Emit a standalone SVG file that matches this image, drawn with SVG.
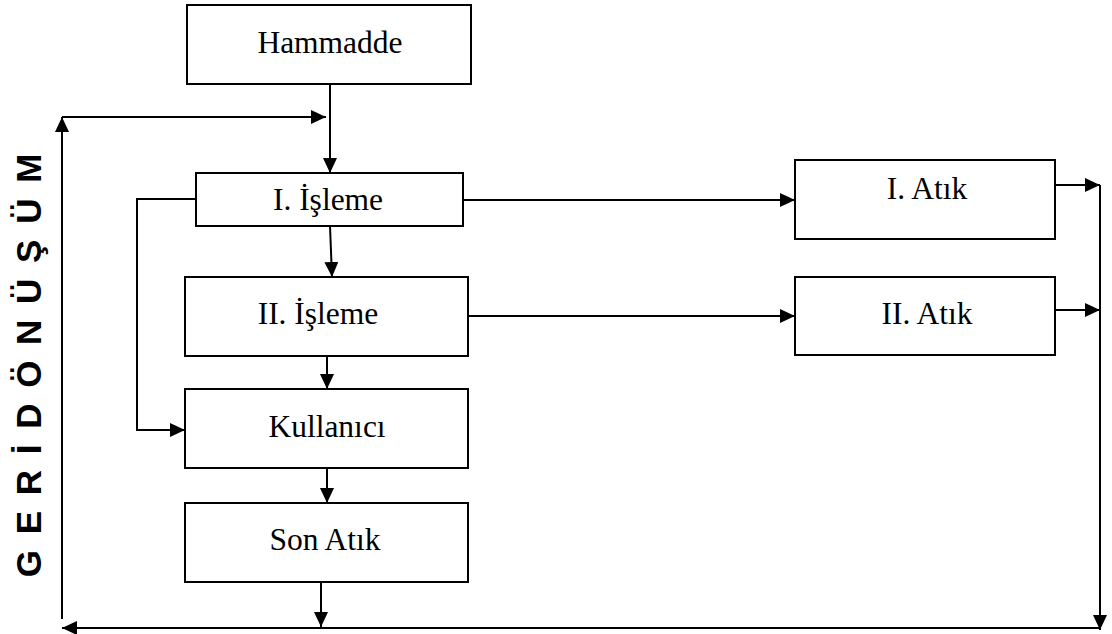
<svg xmlns="http://www.w3.org/2000/svg" width="1112" height="634" viewBox="0 0 1112 634">
  <defs>
    <marker id="arr" markerUnits="userSpaceOnUse" markerWidth="16" markerHeight="14" refX="15" refY="7" orient="auto">
      <path d="M0,0 L15,7 L0,14 Z" fill="#000"/>
    </marker>
    <style>
      .box { fill: #fff; stroke: #000; stroke-width: 2; }
      .lbl { font-family: "Liberation Serif", "Times New Roman", serif; font-size: 31.5px; fill: #000; text-anchor: middle; }
      .ln { fill: none; stroke: #000; stroke-width: 2; }
      .ar { fill: none; stroke: #000; stroke-width: 2; marker-end: url(#arr); }
      .side { font-family: "Liberation Sans", Arial, sans-serif; font-size: 35px; font-weight: bold; fill: #000; text-anchor: middle; letter-spacing: 3px; }
    </style>
  </defs>
  <rect width="1112" height="634" fill="#fff"/>

  <g id="connectors">
    <line class="ar" x1="330" y1="84" x2="330" y2="173"/>
    <line class="ar" x1="62" y1="117" x2="326" y2="117"/>
    <line class="ar" x1="330" y1="226" x2="332" y2="277"/>
    <line class="ar" x1="327" y1="356" x2="327" y2="389"/>
    <line class="ar" x1="327" y1="468" x2="327" y2="503"/>
    <line class="ar" x1="321" y1="582" x2="321" y2="627"/>
    <polyline class="ar" points="196,199 137,199 137,430 185,430"/>
    <line class="ar" x1="463" y1="200" x2="795" y2="200"/>
    <line class="ar" x1="468" y1="316" x2="795" y2="316"/>
    <line class="ar" x1="1055" y1="185" x2="1100" y2="185"/>
    <line class="ar" x1="1055" y1="310" x2="1100" y2="310"/>
    <line class="ar" x1="1100" y1="185" x2="1100" y2="630"/>
    <line class="ar" x1="1100" y1="628" x2="62" y2="628"/>
    <line class="ar" x1="62" y1="619" x2="62" y2="117"/>
  </g>

  <g id="hammadde">
    <rect class="box" x="187" y="5" width="284" height="79"/>
    <text class="lbl" x="330" y="53">Hammadde</text>
  </g>
  <g id="isleme1">
    <rect class="box" x="196" y="173" width="267" height="53"/>
    <text class="lbl" x="328" y="210">I. İşleme</text>
  </g>
  <g id="isleme2">
    <rect class="box" x="185" y="277" width="283" height="79"/>
    <text class="lbl" x="318" y="324">II. İşleme</text>
  </g>
  <g id="kullanici">
    <rect class="box" x="185" y="389" width="283" height="79"/>
    <text class="lbl" x="327" y="437">Kullanıcı</text>
  </g>
  <g id="sonatik">
    <rect class="box" x="185" y="503" width="283" height="79"/>
    <text class="lbl" x="325" y="550">Son Atık</text>
  </g>
  <g id="atik1">
    <rect class="box" x="795" y="160" width="260" height="79"/>
    <text class="lbl" x="927" y="199">I. Atık</text>
  </g>
  <g id="atik2">
    <rect class="box" x="795" y="277" width="260" height="78"/>
    <text class="lbl" x="927" y="324">II. Atık</text>
  </g>

  <g id="geri-donusum">
    <text class="side" transform="translate(41,364) rotate(-90)">G E R İ   D Ö N Ü Ş Ü M</text>
  </g>
</svg>
